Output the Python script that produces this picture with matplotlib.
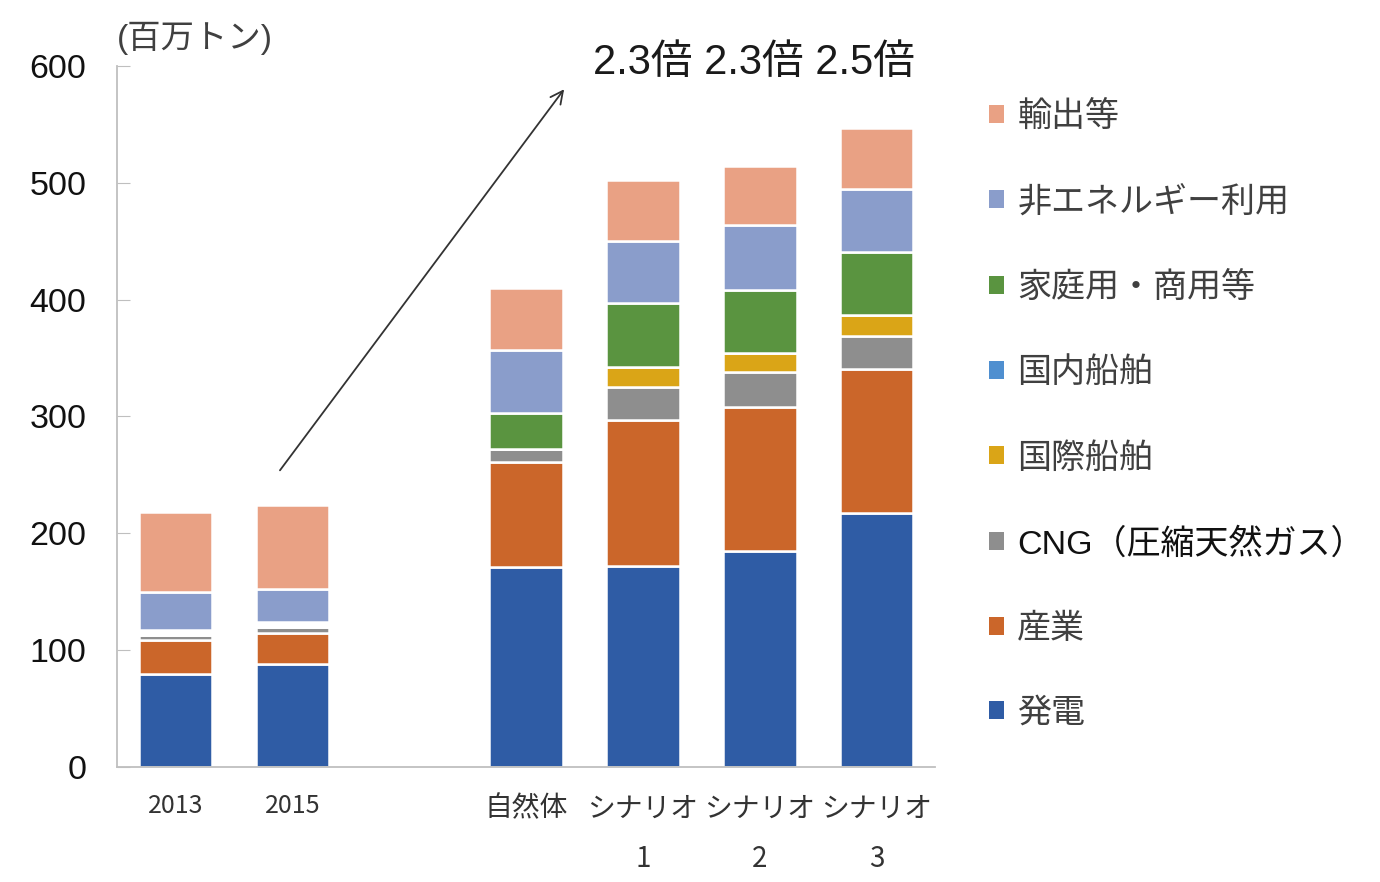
import matplotlib
matplotlib.use("Agg")
import matplotlib.pyplot as plt
from matplotlib.patches import Patch
import numpy as np

plt.rcParams['font.family'] = ['Liberation Sans', 'Noto Sans CJK JP', 'DejaVu Sans']

categories = ["2013", "2015", "自然体", "シナリオ\n1", "シナリオ\n2", "シナリオ\n3"]
positions = [0, 1, 3, 4, 5, 6]

series_names = ["発電", "産業", "CNG（圧縮天然ガス）", "国際船舶", "国内船舶",
                "家庭用・商用等", "非エネルギー利用", "輸出等"]
power      = [80, 88, 171, 172, 185, 217]
industry   = [29, 27, 90, 125, 123, 124]
cng        = [4, 5, 11, 28, 30, 28]
intl_ship  = [0, 0, 0, 17, 16, 18]
dom_ship   = [0, 0, 0, 0, 0, 0]
household  = [4, 4, 31, 55, 54, 54]
nonenergy  = [33, 28, 54, 53, 56, 54]
export     = [68, 72, 53, 52, 50, 52]

series = [power, industry, cng, intl_ship, dom_ship, household, nonenergy, export]
colors = ["#2F5CA5", "#CB662A", "#8E8E8E", "#DAA517", "#4F8FD0",
          "#5A9440", "#8A9DCB", "#E9A184"]

multipliers = "2.3倍 2.3倍 2.5倍"
unit_label = "(百万トン)"

fig = plt.figure(figsize=(13.8, 8.82), dpi=100)
ax = fig.add_axes([0.0848, 0.1304, 0.5928, 0.7948])

bottom = np.zeros(len(positions))
for name, vals, col in zip(series_names, series, colors):
    v = np.array(vals, dtype=float)
    if name == "家庭用・商用等":
        # small values in 2013/2015 appear as blank gaps in the original
        fc = [("white" if x < 6 else col) for x in v]
    else:
        fc = col
    ax.bar(positions, v, bottom=bottom, width=0.63, color=fc,
           edgecolor="white", linewidth=1.8)
    bottom += v

ax.set_xlim(-0.5, 6.5)
ax.set_ylim(0, 600)
ax.set_yticks(range(0, 601, 100))
ax.tick_params(axis='y', direction='in', length=9, color='#BFBFBF',
               labelsize=24.5, pad=22, labelcolor='#111111')
ax.set_xticks(positions)
ax.set_xticklabels(categories, fontsize=20, color='#333333',
                   family=['Noto Sans CJK JP', 'DejaVu Sans'])
for lab in ax.get_xticklabels():
    lab.set_linespacing(1.9)
    if lab.get_text().isdigit():
        lab.set_fontsize(18)
ax.tick_params(axis='x', length=0, pad=19)

for s in ['top', 'right']:
    ax.spines[s].set_visible(False)
for s in ['left', 'bottom']:
    ax.spines[s].set_color('#BFBFBF')
    ax.spines[s].set_linewidth(1.3)

# arrow
ax.annotate('', xy=(3.34, 582), xytext=(0.88, 252), annotation_clip=False,
            arrowprops=dict(arrowstyle='->,head_length=0.9,head_width=0.45',
                            color='#333333', lw=1.3))

fig.text(0.546, 0.929, multipliers, fontsize=30, color='#1a1a1a',
         ha='center', va='center')
fig.text(0.085, 0.957, unit_label, fontsize=24, color='#404040',
         ha='left', va='center')

handles = [Patch(facecolor=c, edgecolor='none') for c in colors]
order = list(range(len(series_names)))[::-1]
leg = fig.legend([handles[i] for i in order], [series_names[i] for i in order],
                 loc='upper left', bbox_to_anchor=(0.717, 0.886),
                 frameon=False, fontsize=24.5, labelspacing=1.57,
                 handlelength=0.44, handleheight=0.44, handletextpad=0.38,
                 borderpad=0, borderaxespad=0)
for i, t in zip(order, leg.get_texts()):
    t.set_color('#111111' if i == 2 else '#404040')

fig.savefig("out.png", dpi=100)
